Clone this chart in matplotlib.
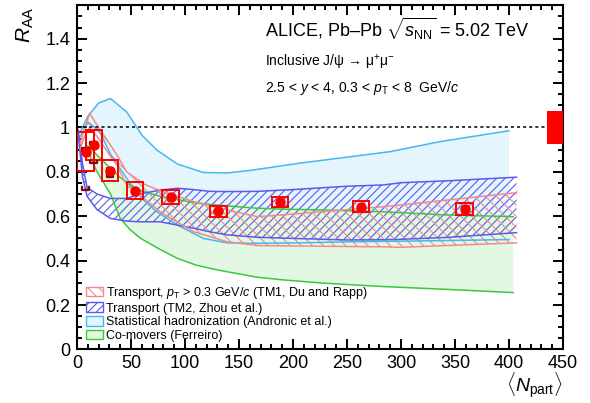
"""ALICE J/psi R_AA versus <Npart> in Pb-Pb at 5.02 TeV, with model bands"""

import matplotlib
matplotlib.use("Agg")
import matplotlib.pyplot as plt
from matplotlib.patches import Patch, Rectangle
from matplotlib.ticker import MultipleLocator, FuncFormatter

plt.rcParams['font.family'] = ['Liberation Sans', 'DejaVu Sans']
plt.rcParams['mathtext.fontset'] = 'custom'
plt.rcParams['mathtext.rm'] = 'Liberation Sans'
plt.rcParams['mathtext.it'] = 'Liberation Sans:italic'
plt.rcParams['mathtext.bf'] = 'Liberation Sans:bold'
plt.rcParams['hatch.linewidth'] = 0.8

# measured points
npart = [8.0, 15.7, 30.6, 53.7, 86.7, 131.0, 188.0, 263.0, 359.0]
raa = [0.891, 0.921, 0.805, 0.715, 0.687, 0.622, 0.664, 0.642, 0.633]
raa_stat = [0.015, 0.013, 0.011, 0.009, 0.008, 0.007, 0.006, 0.006, 0.006]
raa_syst = [0.088, 0.068, 0.047, 0.037, 0.030, 0.026, 0.023, 0.025, 0.027]
# extra (pT cut) uncertainty on the three most peripheral points
brk_npart = [8.0, 15.7, 30.6]
brk_lo = [0.718, 0.839, 0.778]
brk_hi = [0.906, 0.936, 0.816]
glob_unc = 0.073

# Transport TM1 (Du and Rapp), pT > 0.3 GeV/c
tm1_x = [3, 6, 11.7, 18.5, 31, 37, 46, 62, 77, 108, 139, 167, 200, 284, 300, 407]
tm1_hi = [0.93, 0.98, 1.064, 1.011, 0.92, 0.876, 0.80, 0.745, 0.715, 0.666, 0.628,
          0.598, 0.61, 0.643, 0.651, 0.706]
tm1_lo = [0.90, 0.95, 1.00, 0.96, 0.87, 0.83, 0.74, 0.68, 0.62, 0.53, 0.485,
          0.468, 0.466, 0.462, 0.46, 0.48]

# Transport TM2 (Zhou et al.)
tm2_x = [1, 3, 5, 9.3, 18.5, 31, 46, 58, 77, 93, 108, 123, 139, 167, 200, 250,
         284, 300, 345, 407]
tm2_hi = [0.99, 0.92, 0.84, 0.73, 0.70, 0.68, 0.68, 0.70, 0.718, 0.726, 0.72,
          0.712, 0.711, 0.712, 0.72, 0.735, 0.741, 0.751, 0.76, 0.776]
tm2_lo = [0.97, 0.88, 0.78, 0.69, 0.63, 0.59, 0.578, 0.575, 0.575, 0.56, 0.546,
          0.53, 0.516, 0.505, 0.50, 0.493, 0.494, 0.496, 0.505, 0.526]

# Statistical hadronization (Andronic et al.)
shm_x = [3, 10, 20, 31, 46, 60, 74, 93, 117, 139, 160, 206, 253, 290, 336, 400]
shm_hi = [0.98, 1.05, 1.11, 1.13, 1.07, 0.966, 0.898, 0.835, 0.797, 0.795, 0.806,
          0.839, 0.868, 0.891, 0.936, 0.985]
shm_lo = [0.96, 1.02, 0.99, 0.88, 0.77, 0.68, 0.62, 0.56, 0.50, 0.48, 0.478,
          0.48, 0.485, 0.487, 0.49, 0.495]

# Co-movers (Ferreiro)
com_x = [8, 12, 18.5, 31, 40, 49, 59, 77, 93, 110, 130, 167, 191, 230, 284, 340, 404]
com_hi = [0.92, 0.91, 0.876, 0.816, 0.775, 0.741, 0.715, 0.69, 0.675, 0.66, 0.65,
          0.636, 0.632, 0.628, 0.62, 0.606, 0.598]
com_lo = [0.90, 0.87, 0.80, 0.70, 0.59, 0.54, 0.50, 0.45, 0.41, 0.38, 0.358,
          0.325, 0.313, 0.298, 0.283, 0.271, 0.256]

col_tm1 = '#f28a8a'
col_tm2 = '#5a5af0'
col_shm = '#45b8f0'
col_com = '#3cc83c'
fill_shm = '#e4f5fd'
fill_com = '#e3f8e3'

fig = plt.figure(figsize=(5.9, 4.03), dpi=100)
ax = fig.add_axes([0.1305, 0.133, 0.8237, 0.8548])

# model bands
ax.fill_between(shm_x, shm_lo, shm_hi, facecolor=fill_shm, linewidth=0)
ax.fill_between(com_x, com_lo, com_hi, facecolor=fill_com, linewidth=0)
ax.fill_between(tm2_x, tm2_lo, tm2_hi, facecolor='none', edgecolor=col_tm2,
                hatch='////', linewidth=0)
ax.fill_between(tm1_x, tm1_lo, tm1_hi, facecolor='none', edgecolor=col_tm1,
                hatch='\\\\\\', linewidth=0)
for xs, lo, hi, c in [(shm_x, shm_lo, shm_hi, col_shm),
                      (com_x, com_lo, com_hi, col_com),
                      (tm2_x, tm2_lo, tm2_hi, col_tm2),
                      (tm1_x, tm1_lo, tm1_hi, col_tm1)]:
    ax.plot(xs, hi, color=c, lw=1.1)
    ax.plot(xs, lo, color=c, lw=1.1)

ax.axhline(1.0, color='black', lw=1.1, ls=(0, (2, 2)))

# data: syst boxes, brackets, stat bars, markers
half_w = 7.7
for x, y, s in zip(npart, raa, raa_syst):
    ax.add_patch(Rectangle((x - half_w, y - s), 2 * half_w, 2 * s,
                           facecolor='none', edgecolor='red', lw=1.4, zorder=5))

bw, arm = 3.2, 0.012
for x, lo, hi in zip(brk_npart, brk_lo, brk_hi):
    ax.plot([x - bw, x - bw, x + bw, x + bw], [lo + arm, lo, lo, lo + arm],
            color='#7a0a0a', lw=1.6, zorder=6)
    ax.plot([x - bw, x - bw, x + bw, x + bw], [hi - arm, hi, hi, hi - arm],
            color='#7a0a0a', lw=1.6, zorder=6)

ax.errorbar(npart, raa, yerr=raa_stat, fmt='o', color='red', ms=6.5,
            elinewidth=1.2, capsize=0, zorder=7)

ax.add_patch(Rectangle((435, 1 - glob_unc), 15, 2 * glob_unc,
                       facecolor='red', edgecolor='none', zorder=5))

# axes
ax.set_xlim(0, 450)
ax.set_ylim(0, 1.552)
ax.xaxis.set_major_locator(MultipleLocator(50))
ax.xaxis.set_minor_locator(MultipleLocator(10))
ax.yaxis.set_major_locator(MultipleLocator(0.2))
ax.yaxis.set_minor_locator(MultipleLocator(0.05))
ax.yaxis.set_major_formatter(FuncFormatter(lambda v, p: '%g' % round(v, 2)))
ax.tick_params(which='both', direction='in', top=True, right=True, width=1.4,
               labelsize=13)
ax.tick_params(which='major', length=7)
ax.tick_params(which='minor', length=3.6)
ax.tick_params(axis='y', pad=5)
ax.tick_params(axis='x', pad=4)
for sp in ax.spines.values():
    sp.set_linewidth(1.5)

ax.text(-0.107, 0.995, r'$R_{\mathrm{AA}}$', rotation=90, ha='center', va='top',
        fontsize=15, transform=ax.transAxes)
ax.text(1.0, -0.103, r'$\langle N_{\mathrm{part}}\rangle$', ha='right',
        va='center', fontsize=14, transform=ax.transAxes)

ax.text(0.387, 0.908, r'ALICE, Pb–Pb $\sqrt{s_{\mathrm{NN}}}$ = 5.02 TeV',
        fontsize=13, va='baseline', transform=ax.transAxes)
ax.text(0.387, 0.820, r'Inclusive J/ψ → μ$^{+}$μ$^{-}$',
        fontsize=10, va='baseline', transform=ax.transAxes)
ax.text(0.387, 0.748, r'2.5 < $y$ < 4, 0.3 < $p_{\mathrm{T}}$ < 8  GeV/$c$',
        fontsize=10, va='baseline', transform=ax.transAxes)

handles = [
    Patch(facecolor='none', edgecolor=col_tm1, hatch='\\\\\\', lw=1),
    Patch(facecolor='none', edgecolor=col_tm2, hatch='////', lw=1),
    Patch(facecolor=fill_shm, edgecolor=col_shm, lw=1),
    Patch(facecolor=fill_com, edgecolor=col_com, lw=1),
]
labels = [
    r'Transport, $p_{\mathrm{T}}$ > 0.3 GeV/$c$ (TM1, Du and Rapp)',
    'Transport (TM2, Zhou et al.)',
    'Statistical hadronization (Andronic et al.)',
    'Co-movers (Ferreiro)',
]
ax.legend(handles, labels, loc='lower left', bbox_to_anchor=(0.018, 0.022),
          frameon=False, fontsize=9, handlelength=1.4, handleheight=0.8,
          handletextpad=0.25, labelspacing=0.12, borderaxespad=0, borderpad=0)

fig.savefig('out.png', dpi=100)
